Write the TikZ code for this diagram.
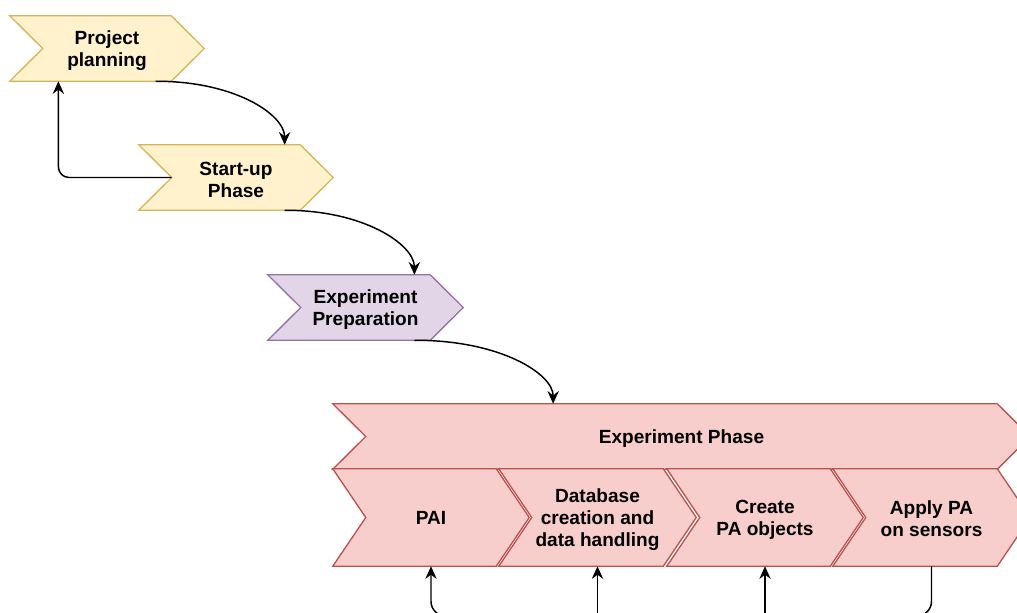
\documentclass[tikz,border=0pt]{standalone}
\usepackage{fontspec}
\setmainfont{Liberation Sans}
\usetikzlibrary{arrows.meta,calc,backgrounds}

\definecolor{yfill}{HTML}{FFF2CC}\definecolor{ydraw}{HTML}{D6B656}
\definecolor{pfill}{HTML}{E1D5E7}\definecolor{pdraw}{HTML}{9673A6}
\definecolor{rfill}{HTML}{F8CECC}\definecolor{rdraw}{HTML}{B85450}

\tikzset{
  phase/.style 2 args={inner sep=0pt,
    minimum width=#1*0.75pt, minimum height=#2*0.75pt},
  phasetext/.style={inner sep=0pt, align=center,
    font=\fontsize{14.3}{16.4}\selectfont\bfseries},
  link/.style={line width=1.1pt,
    -{Stealth[length=9.5pt,width=8.5pt,inset=3.2pt]}},
  yellowstep/.style={fill=yfill, draw=ydraw, line width=1pt},
  purplestep/.style={fill=pfill, draw=pdraw, line width=1pt},
  redstep/.style={fill=rfill, draw=rdraw, line width=1pt},
}

% chevron outline filling the rectangle of node #2, notch/tip depth #3
\newcommand\stepoutline[3]{%
  \path[#1] (#2.north west) -- ([xshift=-#3]#2.north east) -- (#2.east)
    -- ([xshift=-#3]#2.south east) -- (#2.south west)
    -- ([xshift=#3]#2.west) -- cycle;}

\begin{document}
\begin{tikzpicture}[x=0.75pt, y=-0.75pt]
  \useasboundingbox (0,0) rectangle (1017,613);
  \clip (0,0) rectangle (1017,613);

  % phase frames
  \node[phase={194}{65}] (pp) at (107,48.5)    {};
  \node[phase={194}{65}] (su) at (236,177.5)   {};
  \node[phase={195}{65}] (ep) at (365.5,307.5) {};
  \node[phase={697}{65}] (xp) at (681.5,436.5) {};
  \node[phase={196}{97}] (pai) at (431,517.5)  {};
  \node[phase={197}{97}] (db)  at (597.5,517.5) {};
  \node[phase={196}{97}] (cr)  at (765,517.5)  {};
  \node[phase={197}{97}] (ap)  at (931.5,517.5) {};

  \begin{scope}[on background layer]
    \clip (0,0) rectangle (1017,613);
    \stepoutline{yellowstep}{pp}{24.75pt}
    \stepoutline{yellowstep}{su}{24.75pt}
    \stepoutline{purplestep}{ep}{24.75pt}
    \stepoutline{redstep}{xp}{24.75pt}
    \stepoutline{redstep}{pai}{24.75pt}
    \stepoutline{redstep}{db}{24.75pt}
    \stepoutline{redstep}{cr}{24.75pt}
    \stepoutline{redstep}{ap}{24.75pt}
  \end{scope}

  % labels
  \node[phasetext] (pp-t) at ([yshift=-1.6pt]pp.center) {Project\\planning};
  \node[phasetext] (su-t) at ([yshift=-1.6pt]su.center) {Start-up\\Phase};
  \node[phasetext] (ep-t) at ([yshift=-1.6pt]ep.center) {Experiment\\Preparation};
  \node[phasetext] (xp-t) at ([yshift=-1.8pt]xp.center) {Experiment Phase};
  \node[phasetext] (pai-t) at (pai.center) {PAI};
  \node[phasetext] (db-t) at ([yshift=-1.6pt]db.center) {Database\\creation and\\data handling};
  \node[phasetext] (cr-t) at ([yshift=-1.6pt]cr.center) {Create\\PA objects};
  \node[phasetext] (ap-t) at ([yshift=-0.8pt]ap.center) {Apply PA\\on sensors};

  % helper points below the visible area
  \coordinate (low) at (0,616);
  \coordinate (below) at (0,660);

  % sequence of phases
  \draw[link] ($(pp.south west)!0.75!(pp.south east)$)
    .. controls (235,81) and ($(su.north west)!0.75!(su.north east)+(0,-30)$)
    .. ($(su.north west)!0.75!(su.north east)$);
  \draw[link] ($(su.south west)!0.75!(su.south east)$)
    .. controls (364,210) and ($(ep.north west)!0.75!(ep.north east)+(0,-30)$)
    .. ($(ep.north west)!0.75!(ep.north east)$);
  \draw[link] ($(ep.south west)!0.75!(ep.south east)$)
    .. controls (500,340) and ($(xp.north west)!0.316!(xp.north east)+(0,-30)$)
    .. ($(xp.north west)!0.316!(xp.north east)$);

  % feedback from start-up to planning
  \draw[link, rounded corners=8pt] ([xshift=24.75pt]su.west)
    -| ($(pp.south west)!0.25!(pp.south east)$);

  % connectors under the sub-steps
  \draw[link, rounded corners=11pt] (ap.south) -- (ap.south |- low)
    -- (pai.south |- low) -- (pai.south);
  \draw[link] (db.south |- below) -- (db.south);
  \draw[link] (cr.south |- below) -- (cr.south);
\end{tikzpicture}
\end{document}
